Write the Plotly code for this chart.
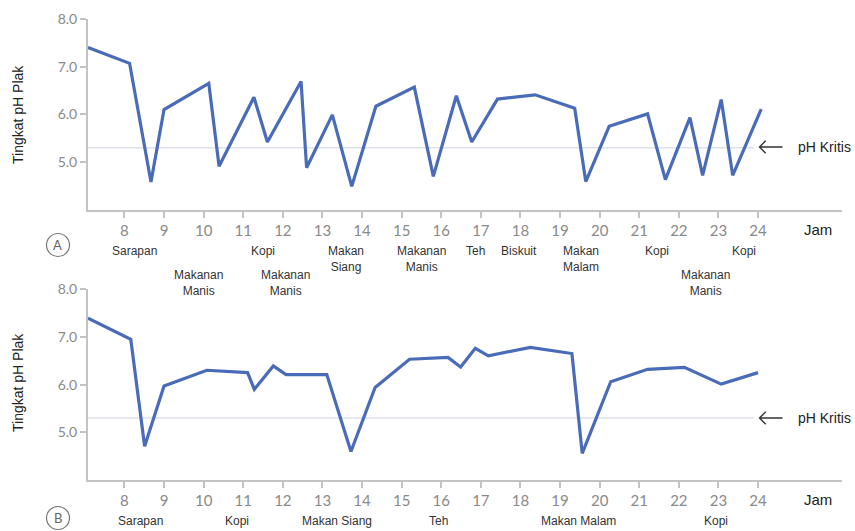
import plotly.graph_objects as go

# ---------------- data ----------------
hours_a = [7.08, 8.13, 8.67, 9.0, 10.13, 10.39, 11.27, 11.61, 12.46, 12.60, 13.25, 13.74,
           14.35, 15.32, 15.80, 16.38, 16.77, 17.42, 18.37, 19.37, 19.65, 20.24, 21.21,
           21.66, 22.28, 22.60, 23.07, 23.36, 24.08]
ph_a = [7.40, 7.07, 4.58, 6.10, 6.65, 4.91, 6.36, 5.42, 6.69, 4.88, 5.99, 4.49,
        6.17, 6.57, 4.70, 6.39, 5.42, 6.32, 6.41, 6.13, 4.59, 5.75, 6.01,
        4.63, 5.93, 4.72, 6.31, 4.72, 6.11]

hours_b = [7.08, 8.16, 8.51, 9.0, 10.08, 11.11, 11.28, 11.76, 12.08, 13.11, 13.72, 14.33,
           15.20, 16.17, 16.49, 16.86, 17.19, 18.25, 19.30, 19.56, 20.28, 21.21, 22.14,
           23.07, 24.00]
ph_b = [7.39, 6.95, 4.71, 5.97, 6.30, 6.25, 5.90, 6.39, 6.21, 6.21, 4.60, 5.94,
        6.53, 6.57, 6.37, 6.76, 6.60, 6.78, 6.65, 4.56, 6.06, 6.32, 6.36,
        6.01, 6.25]

critical_ph = 5.3
critical_span = [7.08, 23.9]

x_ticks = list(range(8, 25))
y_ticks = [5, 6, 7, 8]
y_ticktext = ["5.0", "6.0", "7.0", "8.0"]

meals_a = ["Sarapan", "Makanan<br>Manis", "Kopi", "Makanan<br>Manis", "Makan<br>Siang",
           "Makanan<br>Manis", "Teh", "Biskuit", "Makan<br>Malam", "Kopi",
           "Makanan<br>Manis", "Kopi"]
meal_times_a = [8.25, 9.86, 11.50, 12.06, 13.60, 15.49, 16.87, 17.97, 19.53, 21.44, 22.68, 23.65]
meal_rows_a = [0, 1, 0, 1, 0, 0, 0, 0, 0, 0, 1, 0]

meals_b = ["Sarapan", "Kopi", "Makan Siang", "Teh", "Makan Malam", "Kopi"]
meal_times_b = [8.40, 10.83, 13.37, 15.92, 19.46, 22.93]

# ---------------- layout helpers ----------------
W, H = 855, 531
def px(x):
    return x / W
def py(y):
    return 1 - y / H

LINE_BLUE = "#4a6cb8"
AXIS_GRAY = "#c3c3c3"
CRIT_GRAY = "#dde1e8"
TICK_FONT = dict(family="Lato, 'Open Sans', sans-serif", size=14, color="#8a8a8a")
LABEL_FONT = dict(family="'Liberation Sans', Arial, sans-serif", size=12, color="#333333")
TEXT_FONT = dict(family="'Liberation Sans', Arial, sans-serif", size=14, color="#222222")

x_range = [7.08, 26.12]

fig = go.Figure()

for i, (hx, hy) in enumerate([(hours_a, ph_a), (hours_b, ph_b)]):
    xa = "x" if i == 0 else "x2"
    ya = "y" if i == 0 else "y2"
    fig.add_trace(go.Scatter(x=critical_span, y=[critical_ph, critical_ph], mode="lines",
                             line=dict(color=CRIT_GRAY, width=1.5), xaxis=xa, yaxis=ya,
                             hoverinfo="skip", showlegend=False))
    fig.add_trace(go.Scatter(x=hx, y=hy, mode="lines",
                             line=dict(color=LINE_BLUE, width=3.2), xaxis=xa, yaxis=ya,
                             showlegend=False))

xdom = [px(88), px(842)]
top_dom = [py(209.7), py(19)]
bot_dom = [py(480.2), py(289)]

axis_common_x = dict(range=x_range, tickvals=x_ticks, showline=True, linecolor=AXIS_GRAY,
                     linewidth=2, ticks="outside", ticklen=6, tickcolor=AXIS_GRAY,
                     tickwidth=1.5, showgrid=False, zeroline=False, automargin=False,
                     tickfont=dict(TICK_FONT, size=15), domain=xdom)
axis_common_y = dict(range=[4, 8], tickvals=y_ticks, ticktext=y_ticktext, showline=True,
                     linecolor=AXIS_GRAY, linewidth=2, ticks="outside", ticklen=6,
                     tickcolor=AXIS_GRAY, tickwidth=1.5, showgrid=False, zeroline=False,
                     automargin=False, tickfont=TICK_FONT)

fig.update_layout(
    width=W, height=H, margin=dict(l=0, r=0, t=0, b=0, pad=0), autosize=False,
    paper_bgcolor="white", plot_bgcolor="white",
    xaxis=dict(axis_common_x, anchor="y"),
    yaxis=dict(axis_common_y, anchor="x", domain=top_dom),
    xaxis2=dict(axis_common_x, anchor="y2"),
    yaxis2=dict(axis_common_y, anchor="x2", domain=bot_dom),
)

ann = []
shapes = []
# meal labels panel A
for txt, t, r in zip(meals_a, meal_times_a, meal_rows_a):
    ann.append(dict(x=t, xref="x", y=py(242 if r == 0 else 266), yref="paper", text=txt,
                    showarrow=False, xanchor="center", yanchor="top", font=LABEL_FONT,
                    align="center"))
# meal labels panel B
for txt, t in zip(meals_b, meal_times_b):
    ann.append(dict(x=t, xref="x2", y=py(521), yref="paper", text=txt, showarrow=False,
                    xanchor="center", yanchor="middle", font=LABEL_FONT))

for yc_title, yc_jam, yc_crit in [(115, 229, 147), (383, 499, 418)]:
    ann.append(dict(x=px(18), y=py(yc_title), xref="paper", yref="paper",
                    text="Tingkat pH Plak", textangle=-90, showarrow=False,
                    font=TEXT_FONT, xanchor="center", yanchor="middle"))
    ann.append(dict(x=px(818), y=py(yc_jam), xref="paper", yref="paper", text="Jam",
                    showarrow=False, font=dict(TEXT_FONT, size=15), xanchor="center",
                    yanchor="middle"))
    ann.append(dict(x=px(796), y=py(yc_crit), xref="paper", yref="paper", text="pH Kritis",
                    showarrow=False, font=TEXT_FONT, xanchor="left", yanchor="middle"))
    # open arrow pointing left
    tip, tail, arm = 759.5, 782.5, 6.2
    path = (f"M {px(tail)},{py(yc_crit)} L {px(tip)},{py(yc_crit)} "
            f"M {px(tip + arm)},{py(yc_crit - arm)} L {px(tip)},{py(yc_crit)} "
            f"L {px(tip + arm)},{py(yc_crit + arm)}")
    shapes.append(dict(type="path", xref="paper", yref="paper", path=path,
                       line=dict(color="#333333", width=1.4)))

for letter, (cx, cy) in [("A", (58, 245)), ("B", (58, 518))]:
    r = 11.5
    shapes.append(dict(type="circle", xref="paper", yref="paper",
                       x0=px(cx - r), x1=px(cx + r), y0=py(cy + r), y1=py(cy - r),
                       line=dict(color="#777777", width=1.2)))
    ann.append(dict(x=px(cx), y=py(cy), xref="paper", yref="paper", text=letter,
                    showarrow=False, xanchor="center", yanchor="middle",
                    font=dict(family="Lato, sans-serif", size=13, color="#666666")))

fig.update_layout(annotations=ann, shapes=shapes)

fig.write_html("out.html", config={"displayModeBar": False},
               post_script="document.body.style.margin='0';document.body.style.overflow='hidden';")
